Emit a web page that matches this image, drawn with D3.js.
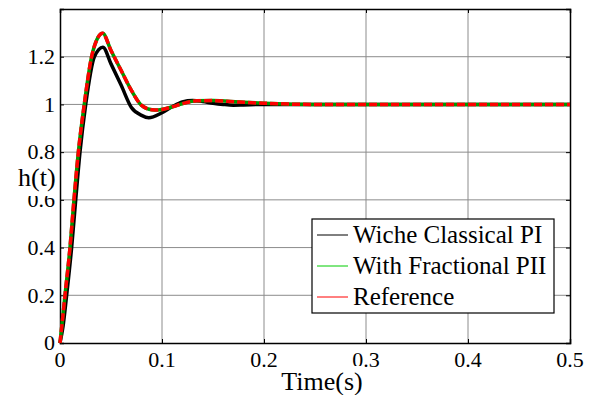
<!DOCTYPE html>
<html>
<head>
<meta charset="utf-8">
<script src="https://cdn.jsdelivr.net/npm/d3@7"></script>
</head>
<body style="margin:0">
<div id="chart"></div>
<script>
// step responses
var classicalT = [0, 0.003, 0.0065, 0.0114, 0.0154, 0.0196, 0.0252, 0.0337, 0.042, 0.05, 0.06, 0.07, 0.08, 0.087, 0.1, 0.11, 0.12, 0.13, 0.14, 0.15, 0.16, 0.17, 0.18, 0.2, 0.25, 0.3, 0.4, 0.5];
var classicalH = [0, 0.07, 0.2, 0.4, 0.6, 0.8, 1.0, 1.2, 1.24, 1.17, 1.08, 0.987, 0.954, 0.944, 0.965, 0.99, 1.01, 1.016, 1.012, 1.005, 1.0, 0.997, 0.998, 1.0, 1.0, 1.0, 1.0, 1.0];

var fractionalT = [0, 0.0025, 0.0049, 0.0098, 0.0137, 0.018, 0.0238, 0.031, 0.036, 0.0418, 0.05, 0.06, 0.07, 0.08, 0.09, 0.096, 0.11, 0.12, 0.134, 0.15, 0.176, 0.2, 0.25, 0.3, 0.4, 0.5];
var fractionalH = [0, 0.1, 0.2, 0.4, 0.6, 0.8, 1.0, 1.2, 1.27, 1.298, 1.226, 1.142, 1.059, 0.996, 0.978, 0.977, 0.99, 1.003, 1.015, 1.016, 1.01, 1.005, 1.0, 1.0, 1.0, 1.0];

var referenceT = fractionalT;
var referenceH = [0, 0.1, 0.2, 0.4, 0.6, 0.8, 1.0, 1.2, 1.27, 1.298, 1.226, 1.142, 1.059, 0.996, 0.978, 0.977, 0.99, 1.003, 1.015, 1.016, 1.01, 1.005, 1.0, 1.0, 1.0, 1.0];

var xTicks = [0, 0.1, 0.2, 0.3, 0.4, 0.5];
var yTicks = [0, 0.2, 0.4, 0.6, 0.8, 1, 1.2];
var legendNames = ["Wiche Classical PI", "With Fractional PII", "Reference"];
var legendColors = ["#000", "#00cc00", "#ff0000"];

var serif = function(sel, size) {
    return sel.style('font-family', d => "'Times New Roman'")
        .style('font-size', size + 'px');
};

var width = 597, height = 395;
var margin = {left: 60, right: 27, top: 9, bottom: 52};
var w = width - margin.left - margin.right,
    h = height - margin.top - margin.bottom;

var svg = d3.select('#chart')
    .append('svg')
        .attr('width', width)
        .attr('height', height);

var g = svg.append('g')
    .attr('transform', 'translate(' + margin.left + ',' + margin.top + ')');

var x = d3.scaleLinear().domain([0, 0.5]).range([0, w]);
var y = d3.scaleLinear().domain([0, 1.4]).range([h, 0]);

// grid
g.append('g').selectAll('line')
    .data(xTicks.slice(1, -1))
    .join('line')
        .attr('x1', d => x(d)).attr('x2', d => x(d))
        .attr('y1', 0).attr('y2', h)
        .attr('stroke', '#8c8c8c').attr('stroke-width', 1);
g.append('g').selectAll('line')
    .data(yTicks.slice(1))
    .join('line')
        .attr('x1', 0).attr('x2', w)
        .attr('y1', d => y(d)).attr('y2', d => y(d))
        .attr('stroke', '#8c8c8c').attr('stroke-width', 1);

// axes: lines and inner ticks only, labels drawn below
var axB = g.append('g').attr('transform', 'translate(0,' + h + ')')
    .call(d3.axisBottom(x).tickValues(xTicks).tickSize(-4).tickFormat(''));
var axL = g.append('g')
    .call(d3.axisLeft(y).tickValues(yTicks).tickSize(-4).tickFormat(''));
var axT = g.append('g')
    .call(d3.axisTop(x).tickValues(xTicks).tickSize(-4).tickFormat(''));
var axR = g.append('g').attr('transform', 'translate(' + w + ',0)')
    .call(d3.axisRight(y).tickValues(yTicks).tickSize(-4).tickFormat(''));

[axB, axL, axT, axR].forEach(function(a) {
    a.attr('font-family', null);
    a.select('.domain').attr('stroke', '#000').attr('stroke-width', 1.5);
    a.selectAll('.tick line').attr('stroke', '#000');
    a.selectAll('text').remove();
});

serif(g.append('g').selectAll('text').data(xTicks).join('text')
    .attr('x', d => x(d)).attr('y', h + 24)
    .attr('text-anchor', 'middle')
    .text(d => String(d)), 22);

serif(g.append('g').selectAll('text').data(yTicks).join('text')
    .attr('x', -5).attr('y', d => y(d)).attr('dy', '0.33em')
    .attr('text-anchor', 'end')
    .text(d => String(d)), 22);

// curves
var line = d3.line().x(d => x(d[0])).y(d => y(d[1])).curve(d3.curveMonotoneX);
var zip = function(a, b) { return a.map((t, i) => [t, b[i]]); };

var plot = g.append('g');
plot.append('path').datum(zip(classicalT, classicalH))
    .attr('d', line).attr('fill', 'none').attr('stroke', '#000').attr('stroke-width', 3.5);
plot.append('path').datum(zip(fractionalT, fractionalH))
    .attr('d', line).attr('fill', 'none').attr('stroke', '#009900').attr('stroke-width', 3.5);
plot.append('path').datum(zip(referenceT, referenceH))
    .attr('d', line).attr('fill', 'none').attr('stroke', '#ff0000').attr('stroke-width', 3.5)
    .attr('stroke-dasharray', '8,3');

// axis labels with white backing
svg.append('rect').attr('x', 17).attr('y', 166).attr('width', 40).attr('height', 30).attr('fill', '#fff');
serif(svg.append('text').attr('x', 18).attr('y', 186).text('h(t)'), 26);

svg.append('rect').attr('x', 281).attr('y', 366).attr('width', 82).attr('height', 29).attr('fill', '#fff');
serif(svg.append('text').attr('x', 322).attr('y', 390).attr('text-anchor', 'middle').text('Time(s)'), 26);

// legend
svg.append('rect').attr('x', 312).attr('y', 219).attr('width', 242).attr('height', 94)
    .attr('fill', '#fff').attr('stroke', '#000').attr('stroke-width', 1.2);
var rows = svg.append('g').selectAll('g').data(legendNames).join('g')
    .attr('transform', (d, i) => 'translate(0,' + (235 + i * 31) + ')');
rows.append('line').attr('x1', 317).attr('x2', 348).attr('y1', 0).attr('y2', 0)
    .attr('stroke', (d, i) => legendColors[i]).attr('stroke-width', 1);
serif(rows.append('text').attr('x', 353).attr('y', 0).attr('dy', '0.33em').text(d => d), 25);
</script>
</body>
</html>
